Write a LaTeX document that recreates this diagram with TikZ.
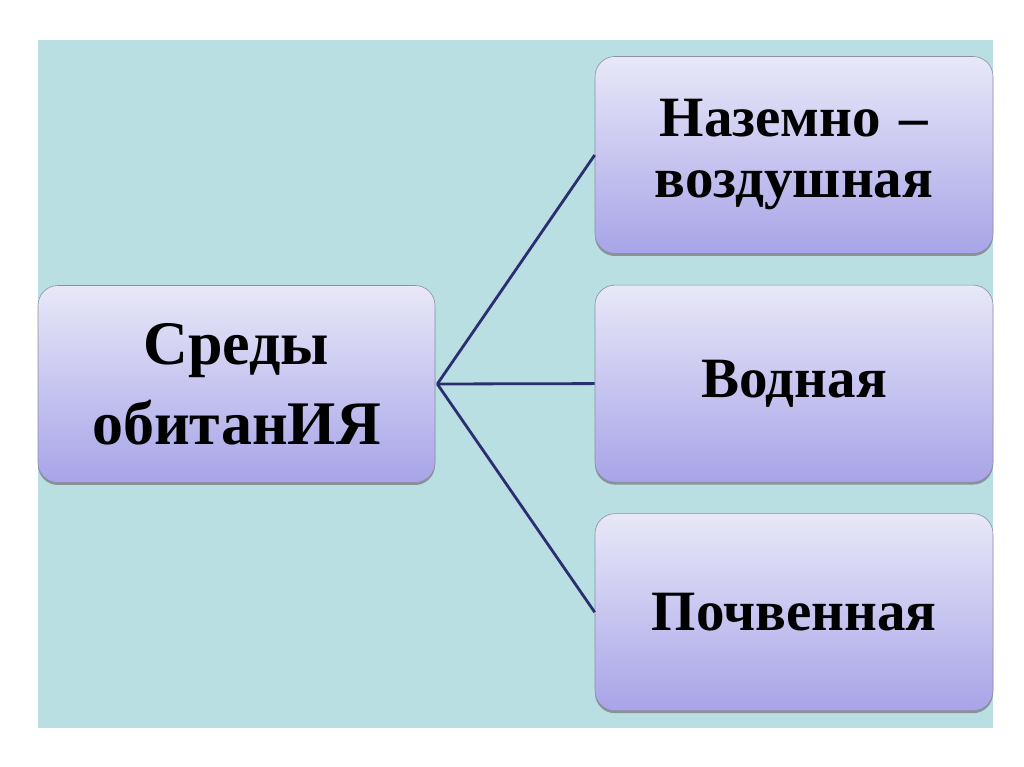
\documentclass[tikz,border=0pt]{standalone}
\usepackage{fontspec}
\setmainfont{Liberation Serif}
\usetikzlibrary{positioning,shadows}
\definecolor{seabg}{HTML}{B9DFE3}
\definecolor{boxtop}{HTML}{E8E8F8}
\definecolor{boxbot}{HTML}{A8A4E8}
\definecolor{boxline}{HTML}{8E8EA8}
\definecolor{linkcol}{HTML}{2B2F70}
\tikzset{
  habitat/.style={draw=boxline,line width=0.6pt,rounded corners=20pt,top color=boxtop,bottom color=boxbot,
    minimum height=197pt,text width=380pt,align=center,font=\bfseries\fontsize{57}{61}\selectfont,
    drop shadow={shadow xshift=0pt,shadow yshift=-2.5pt,fill=black!55,opacity=0.7}},
  link/.style={draw=linkcol,line width=2.8pt}
}
\begin{document}
\begin{tikzpicture}[x=1pt,y=1pt,node distance=31pt]
  \useasboundingbox (0,0) rectangle (1024,767);
  \fill[white] (0,0) rectangle (1024,767);
  \fill[seabg] (38,39) rectangle (993,727);
  \node[habitat,minimum width=397pt,font=\bfseries\fontsize{62}{80}\selectfont] (habitat) at (236.5,383) {Среды\\обитанИЯ};
  \node[habitat,minimum width=398pt] (land) at (794,612) {Наземно –\\воздушная};
  \node[habitat,minimum width=398pt,below=of land] (water) {Водная};
  \node[habitat,minimum width=398pt,below=of water] (soil) {Почвенная};
  \coordinate (fork) at ([xshift=2pt]habitat.east);
  \draw[link] (fork) -- (land.west);
  \draw[link] (fork) -- (water.west);
  \draw[link] (fork) -- (soil.west);
\end{tikzpicture}
\end{document}
